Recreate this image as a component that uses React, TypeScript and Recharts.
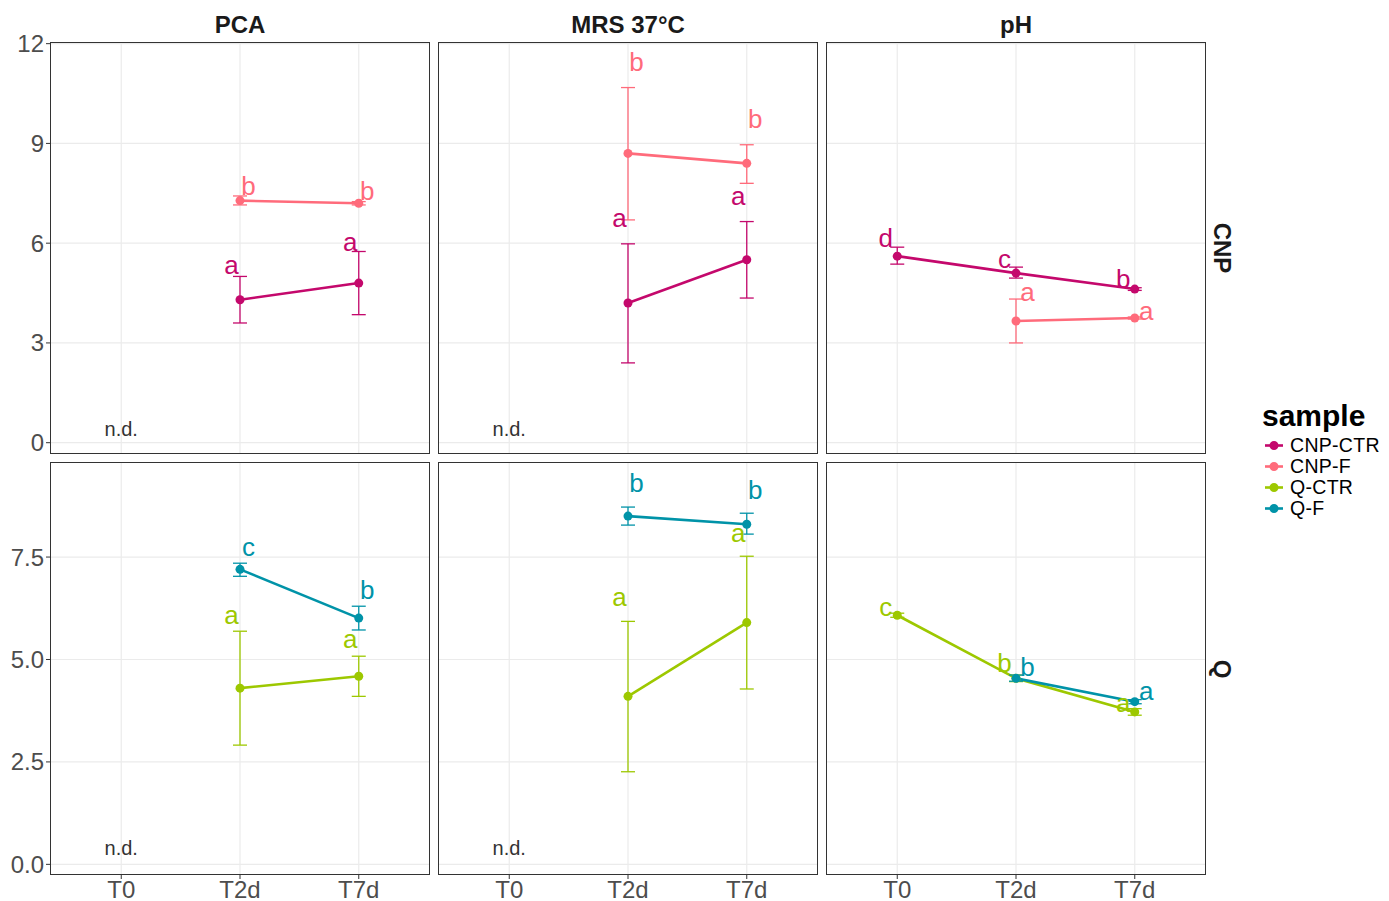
import {
  CartesianGrid,
  ComposedChart,
  ErrorBar,
  Line,
  ReferenceDot,
  XAxis,
  YAxis,
} from "recharts";

const times = ["T0", "T2d", "T7d"];
const samples = ["CNP-CTR", "CNP-F", "Q-CTR", "Q-F"];
const sampleColors = ["#C4086C", "#FF6B7B", "#9DC800", "#0093A8"];
const facetCols = ["PCA", "MRS 37°C", "pH"];
const facetRows = ["CNP", "Q"];

const cnpTicks = [0, 3, 6, 9, 12];
const qTicks = [0, 2.5, 5, 7.5];

// one entry per time: [mean, lower, upper, letter, letter height]; null = n.d.
type Pt = [number, number, number, string, number] | null;

const pcaCnpCtr: Pt[] = [null, [4.3, 3.6, 5.0, "a", 5.34], [4.8, 3.85, 5.75, "a", 6.05]];
const pcaCnpF: Pt[] = [null, [7.28, 7.15, 7.42, "b", 7.71], [7.2, 7.15, 7.25, "b", 7.56]];
const mrsCnpCtr: Pt[] = [null, [4.2, 2.4, 5.98, "a", 6.75], [5.5, 4.35, 6.65, "a", 7.41]];
const mrsCnpF: Pt[] = [null, [8.7, 6.7, 10.68, "b", 11.44], [8.4, 7.8, 8.96, "b", 9.73]];
const phCnpCtr: Pt[] = [[5.61, 5.37, 5.88, "d", 6.15], [5.1, 4.95, 5.28, "c", 5.52], [4.62, 4.58, 4.66, "b", 4.92]];
const phCnpF: Pt[] = [null, [3.66, 3.0, 4.32, "a", 4.53], [3.75, 3.72, 3.78, "a", 3.96]];

const pcaQCtr: Pt[] = [null, [4.3, 2.91, 5.69, "a", 6.08], [4.59, 4.1, 5.08, "a", 5.5]];
const pcaQF: Pt[] = [null, [7.2, 7.03, 7.35, "c", 7.76], [6.01, 5.72, 6.3, "b", 6.69]];
const mrsQCtr: Pt[] = [null, [4.1, 2.26, 5.93, "a", 6.52], [5.9, 4.28, 7.52, "a", 8.1]];
const mrsQF: Pt[] = [null, [8.5, 8.28, 8.72, "b", 9.3], [8.3, 8.06, 8.57, "b", 9.15]];
const phQCtr: Pt[] = [[6.08, 6.03, 6.13, "c", 6.28], [4.54, 4.46, 4.62, "b", 4.91], [3.72, 3.64, 3.8, "a", 3.93]];
const phQF: Pt[] = [null, [4.54, 4.47, 4.62, "b", 4.81], [3.97, 3.92, 4.02, "a", 4.23]];

const FONT = "'Liberation Sans', Arial, Helvetica, sans-serif";
const PANEL_W = 380;
const colLeft = [50, 438, 826];
const rowTop = [42, 462];
const rowH = [412, 413];
const AXIS_W = 50;
const AXIS_H = 32;
const PAD = 14;

type Series = { sample: number; pts: Pt[] };

function Panel({
  series,
  col,
  row,
  domain,
  ticks,
  nd,
  nudge,
}: {
  series: Series[];
  col: number;
  row: number;
  domain: [number, number];
  ticks: number[];
  nd: boolean;
  nudge: number;
}) {
  const showY = col === 0;
  const showX = row === 1;
  const width = PANEL_W + (showY ? AXIS_W : 0);
  const bottom = showX ? AXIS_H : PAD;
  const height = PAD + rowH[row] + bottom;

  const rows = times.map((t, i) => {
    const r: Record<string, any> = { x: i + 1, time: t };
    series.forEach(({ sample, pts }) => {
      const k = samples[sample];
      const p = pts[i];
      r[k] = p ? p[0] : null;
      r[k + "_err"] = p ? [p[0] - p[1], p[2] - p[0]] : null;
      r[k + "_lab"] = p ? p[4] : null;
      r[k + "_txt"] = p ? p[3] : "";
    });
    return r;
  });

  return (
    <div
      style={{
        position: "absolute",
        left: colLeft[col] - (showY ? AXIS_W : 0),
        top: rowTop[row] - PAD,
        width,
        height,
      }}
    >
      <ComposedChart
        width={width}
        height={height}
        data={rows}
        margin={{ top: PAD, right: 0, bottom: showX ? 0 : PAD, left: 0 }}
      >
        <CartesianGrid
          stroke="#EBEBEB"
          strokeWidth={1.2}
          horizontalValues={ticks}
          verticalValues={[1, 2, 3]}
        />
        <XAxis
          type="number"
          dataKey="x"
          domain={[0.4, 3.6]}
          ticks={[1, 2, 3]}
          interval={0}
          tickFormatter={(v) => times[v - 1]}
          allowDataOverflow
          hide={!showX}
          height={AXIS_H}
          axisLine={false}
          tickLine={{ stroke: "#333333" }}
          tickSize={4}
          tick={{ fill: "#4D4D4D", fontSize: 24, fontFamily: FONT }}
        />
        <YAxis
          type="number"
          domain={domain}
          ticks={ticks}
          interval={0}
          allowDataOverflow
          hide={!showY}
          width={AXIS_W}
          axisLine={false}
          tickLine={{ stroke: "#333333" }}
          tickSize={4}
          tickFormatter={(v) => (row === 1 ? Number(v).toFixed(1) : String(v))}
          tick={{ fill: "#4D4D4D", fontSize: 24, fontFamily: FONT }}
        />
        {nd && (
          <ReferenceDot
            x={1}
            y={0.4}
            r={0}
            fill="none"
            stroke="none"
            label={{
              value: "n.d.",
              position: "center",
              fill: "#333333",
              fontSize: 20,
              fontFamily: FONT,
            }}
          />
        )}
        {series.map(({ sample }) => {
          const k = samples[sample];
          const c = sampleColors[sample];
          return (
            <Line
              key={k}
              dataKey={k}
              stroke={c}
              strokeWidth={2.6}
              dot={{ r: 4.5, fill: c, stroke: c, strokeWidth: 0 }}
              activeDot={false}
              isAnimationActive={false}
            >
              <ErrorBar dataKey={k + "_err"} width={7} stroke={c} strokeWidth={1.3} direction="y" />
            </Line>
          );
        })}
        {series.map(({ sample }) => {
          const k = samples[sample];
          const c = sampleColors[sample];
          const dx = k.endsWith("CTR") ? -nudge : nudge;
          return (
            <Line
              key={k + "_lab"}
              dataKey={k + "_lab"}
              stroke="none"
              legendType="none"
              activeDot={false}
              isAnimationActive={false}
              dot={(p: any) => {
                const txt = p.payload ? p.payload[k + "_txt"] : "";
                if (!txt || p.cy == null || isNaN(p.cy)) return <g key={k + "l" + p.index} />;
                return (
                  <text
                    key={k + "l" + p.index}
                    x={p.cx + dx}
                    y={p.cy}
                    dy="0.35em"
                    textAnchor="middle"
                    fill={c}
                    fontSize={26}
                    fontFamily={FONT}
                  >
                    {txt}
                  </text>
                );
              }}
            />
          );
        })}
      </ComposedChart>
      <div
        style={{
          position: "absolute",
          left: showY ? AXIS_W : 0,
          top: PAD,
          width: PANEL_W,
          height: rowH[row],
          border: "1.5px solid #333333",
          boxSizing: "border-box",
          pointerEvents: "none",
        }}
      />
    </div>
  );
}

function Legend() {
  return (
    <div style={{ position: "absolute", left: 1262, top: 397, fontFamily: FONT }}>
      <div style={{ fontSize: 30, fontWeight: "bold", color: "#000", lineHeight: "38px" }}>
        sample
      </div>
      {samples.map((s, i) => (
        <div
          key={s}
          style={{
            display: "flex",
            alignItems: "center",
            height: 21,
            lineHeight: "21px",
            fontSize: 19.5,
            color: "#000",
          }}
        >
          <svg width={26} height={21}>
            <line x1={3} x2={21} y1={10.5} y2={10.5} stroke={sampleColors[i]} strokeWidth={2.6} />
            <circle cx={12} cy={10.5} r={4.5} fill={sampleColors[i]} />
          </svg>
          <span style={{ marginLeft: 2, letterSpacing: 0.3 }}>{s}</span>
        </div>
      ))}
    </div>
  );
}

export default function App() {
  const cnpDomain: [number, number] = [-0.34, 12.05];
  const qDomain: [number, number] = [-0.26, 9.82];
  return (
    <div
      style={{
        position: "absolute",
        left: 0,
        top: 0,
        width: 1389,
        height: 901,
        background: "#fff",
        fontFamily: FONT,
      }}
    >
      {facetCols.map((f, i) => (
        <div
          key={f}
          style={{
            position: "absolute",
            left: colLeft[i],
            width: PANEL_W,
            top: 10,
            textAlign: "center",
            fontSize: 24,
            fontWeight: "bold",
            color: "#1A1A1A",
            lineHeight: "30px",
          }}
        >
          {f}
        </div>
      ))}
      {facetRows.map((f, i) => (
        <div
          key={f}
          style={{
            position: "absolute",
            left: 1222 - 100,
            top: rowTop[i] + rowH[i] / 2 - 15,
            width: 200,
            height: 30,
            lineHeight: "30px",
            textAlign: "center",
            fontSize: 24,
            fontWeight: "bold",
            color: "#1A1A1A",
            transform: "rotate(90deg)",
          }}
        >
          {f}
        </div>
      ))}

      <Panel series={[{ sample: 0, pts: pcaCnpCtr }, { sample: 1, pts: pcaCnpF }]} col={0} row={0} domain={cnpDomain} ticks={cnpTicks} nd nudge={8.5} />
      <Panel series={[{ sample: 0, pts: mrsCnpCtr }, { sample: 1, pts: mrsCnpF }]} col={1} row={0} domain={cnpDomain} ticks={cnpTicks} nd nudge={8.5} />
      <Panel series={[{ sample: 0, pts: phCnpCtr }, { sample: 1, pts: phCnpF }]} col={2} row={0} domain={cnpDomain} ticks={cnpTicks} nd={false} nudge={11.5} />
      <Panel series={[{ sample: 2, pts: pcaQCtr }, { sample: 3, pts: pcaQF }]} col={0} row={1} domain={qDomain} ticks={qTicks} nd nudge={8.5} />
      <Panel series={[{ sample: 2, pts: mrsQCtr }, { sample: 3, pts: mrsQF }]} col={1} row={1} domain={qDomain} ticks={qTicks} nd nudge={8.5} />
      <Panel series={[{ sample: 2, pts: phQCtr }, { sample: 3, pts: phQF }]} col={2} row={1} domain={qDomain} ticks={qTicks} nd={false} nudge={11.5} />

      <Legend />
    </div>
  );
}
